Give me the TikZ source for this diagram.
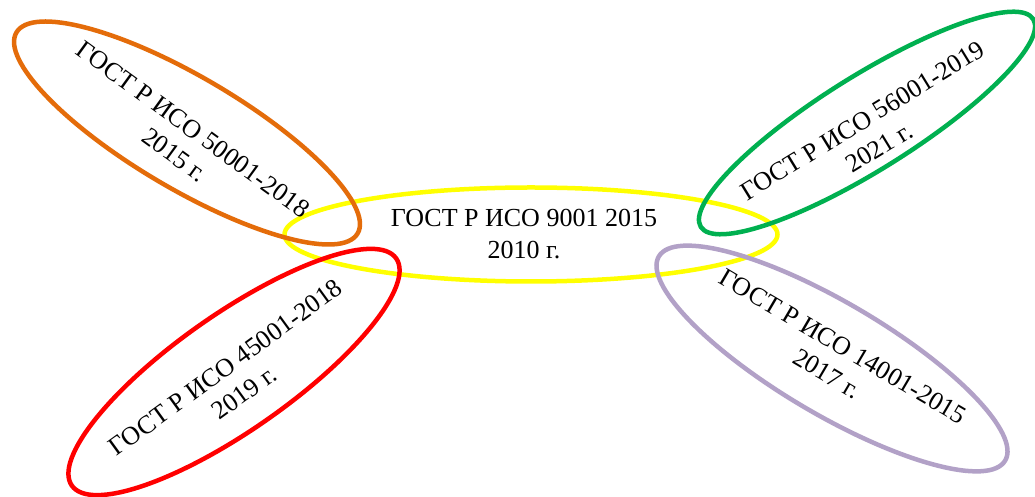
\documentclass[tikz,border=0pt]{standalone}
\usepackage{fontspec}
\setmainfont{Liberation Serif}
\usetikzlibrary{shapes.geometric}
\definecolor{cyellow}{RGB}{255,255,0}
\definecolor{corange}{RGB}{228,108,10}
\definecolor{cgreen}{RGB}{0,176,80}
\definecolor{cred}{RGB}{255,0,0}
\definecolor{cpurple}{RGB}{178,161,199}
\tikzset{
  ring/.style={ellipse, draw, line width=4.5pt, inner sep=0pt, minimum width=#1},
  lbl/.style={align=center, inner sep=0pt, font=\fontsize{26}{31.5}\selectfont}
}
\begin{document}
\begin{tikzpicture}[x=1pt,y=1pt]
\useasboundingbox[fill=white] (0,0) rectangle (1035,497);
% ellipses
\node[ring=493pt, minimum height=94pt, draw=cyellow] (e0) at (531,262.5) {};
\node[ring=396pt, minimum height=112pt, draw=corange, rotate=-30.5] (e1) at (187,364) {};
\node[ring=392pt, minimum height=94pt, draw=cgreen, rotate=32] (e2) at (867,374) {};
\node[ring=396pt, minimum height=116pt, draw=cred, rotate=35] (e3) at (234,125) {};
\node[ring=402pt, minimum height=112pt, draw=cpurple, rotate=-30.5] (e4) at (832,138.5) {};
% texts
\node[lbl] (t0) at (524,263) {ГОСТ Р ИСО 9001 2015\\2010 г.};
\node[lbl, rotate=-36] (t1) at (184,355) {ГОСТ Р ИСО 50001-2018\\2015 г.};
\node[lbl, rotate=31.5] (t2) at (871,363) {ГОСТ Р ИСО 56001-2019\\2021 г.};
\node[lbl, rotate=36] (t3) at (235,117) {ГОСТ Р ИСО 45001-2018\\2019 г.};
\node[lbl, rotate=-30.5] (t4) at (835,137) {ГОСТ Р ИСО 14001-2015\\2017 г.};
\end{tikzpicture}
\end{document}
